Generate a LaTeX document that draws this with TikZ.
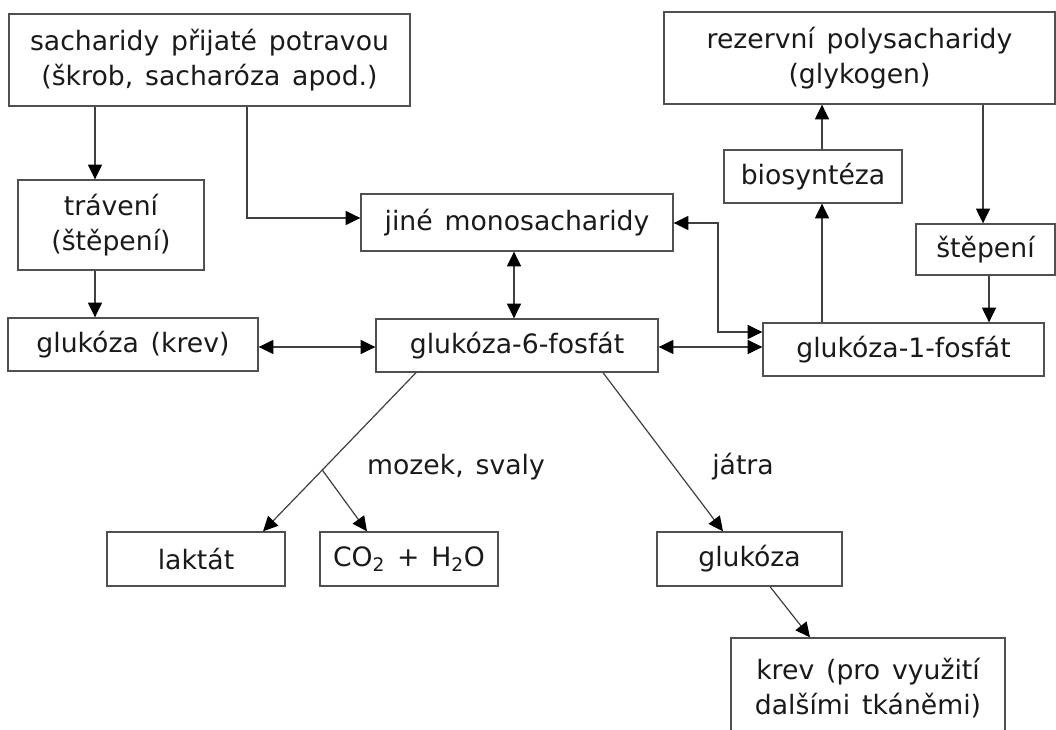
\documentclass[tikz,border=0pt]{standalone}
\usepackage{fontspec}
\setmainfont[WordSpace=1.4]{DejaVu Sans}
\usetikzlibrary{arrows.meta}
\newcommand\upx{0.75pt}
\definecolor{linegray}{HTML}{404040}
\definecolor{boxgray}{HTML}{505050}
\definecolor{txt}{HTML}{1A1A1A}
\tikzset{
  box/.style n args={2}{draw=boxgray, line width=1pt, rectangle, inner sep=0pt,
    minimum width=#1*\upx, minimum height=#2*\upx, align=center, text=txt,
    font=\fontsize{20}{26.5}\selectfont},
  lbl/.style={text=txt, font=\fontsize{20}{26.5}\selectfont, inner sep=0pt},
  conn/.style={draw=linegray, line width=0.9pt},
  arr/.style={conn, -{Triangle[length=11pt,width=10.5pt,fill=black,color=black]}},
  dbl/.style={conn, {Triangle[length=11pt,width=10.5pt,fill=black,color=black]}-{Triangle[length=11pt,width=10.5pt,fill=black,color=black]}}
}
\begin{document}
\begin{tikzpicture}[x=0.75pt, y=-0.75pt]
\useasboundingbox (0,0) rectangle (1056,730);
\fill[white] (0,0) rectangle (1056,730);

% boxes
\node[box={401}{92}] (sach) at (209.5,60) {sacharidy přijaté potravou\\(škrob, sacharóza apod.)};
\node[box={391}{92}] (rez) at (859.5,58) {rezervní polysacharidy\\(glykogen)};
\node[box={186}{90}] (trav) at (111,225) {trávení\\(štěpení)};
\node[box={312}{57}] (jine) at (517,222.5) {jiné monosacharidy};
\node[box={178}{53}] (bio) at (813,176.5) {biosyntéza};
\node[box={139}{51}] (step) at (985.5,249.5) {štěpení};
\node[box={250}{53}] (gk) at (133,344.5) {glukóza (krev)};
\node[box={282}{53}] (g6) at (517,345.5) {glukóza-6-fosfát};
\node[box={281}{53}] (g1) at (903.5,349.5) {glukóza-1-fosfát};
\node[box={178}{54}] (lak) at (196,559) {laktát};
\node[box={178}{54}] (co2) at (409,559) {CO\textsubscript{2} + H\textsubscript{2}O};
\node[box={185}{54}] (glu) at (749.5,559) {glukóza};
\node[box={274}{100}] (krev) at (868,688) {krev (pro využití\\dalšími tkáněmi)};

% labels
\node[lbl] (mozek) at (456,467) {mozek, svaly};
\node[lbl, anchor=west] (jatra) at (712,467) {játra};

% guide coordinates
\coordinate (xA) at (95,0);
\coordinate (xB) at (247,218);
\coordinate (yC) at (0,347);
\coordinate (xD) at (514,0);
\coordinate (k1) at (718,332);
\coordinate (k2) at (718,223);
\coordinate (xG) at (822,0);
\coordinate (xH) at (983,0);
\coordinate (xI) at (989,0);
\coordinate (s1) at (416,0);
\coordinate (br) at (322.3,470);
\coordinate (e1) at (263,0);
\coordinate (e2) at (367,0);
\coordinate (s2) at (603,0);
\coordinate (e3) at (723,0);
\coordinate (s3) at (770,0);
\coordinate (e4) at (810,0);

% connectors
\draw[arr] (sach.south -| xA) -- (trav.north -| xA);
\draw[arr] (trav.south -| xA) -- (gk.north -| xA);
\draw[arr] (sach.south -| xB) -- (xB) -- (jine.west |- xB);
\draw[dbl] (gk.east |- yC) -- (g6.west |- yC);
\draw[dbl] (jine.south -| xD) -- (g6.north -| xD);
\draw[dbl] (g6.east |- yC) -- (g1.west |- yC);
\draw[dbl] (jine.east |- k2) -- (k2) -- (k1) -- (g1.west |- k1);
\draw[arr] (g1.north -| xG) -- (bio.south -| xG);
\draw[arr] (bio.north -| xG) -- (rez.south -| xG);
\draw[arr] (rez.south -| xH) -- (step.north -| xH);
\draw[arr] (step.south -| xI) -- (g1.north -| xI);
\draw[arr] (g6.south -| s1) -- (br) -- (lak.north -| e1);
\draw[arr] (br) -- (co2.north -| e2);
\draw[arr] (g6.south -| s2) -- (glu.north -| e3);
\draw[arr] (glu.south -| s3) -- (krev.north -| e4);
\end{tikzpicture}
\end{document}
